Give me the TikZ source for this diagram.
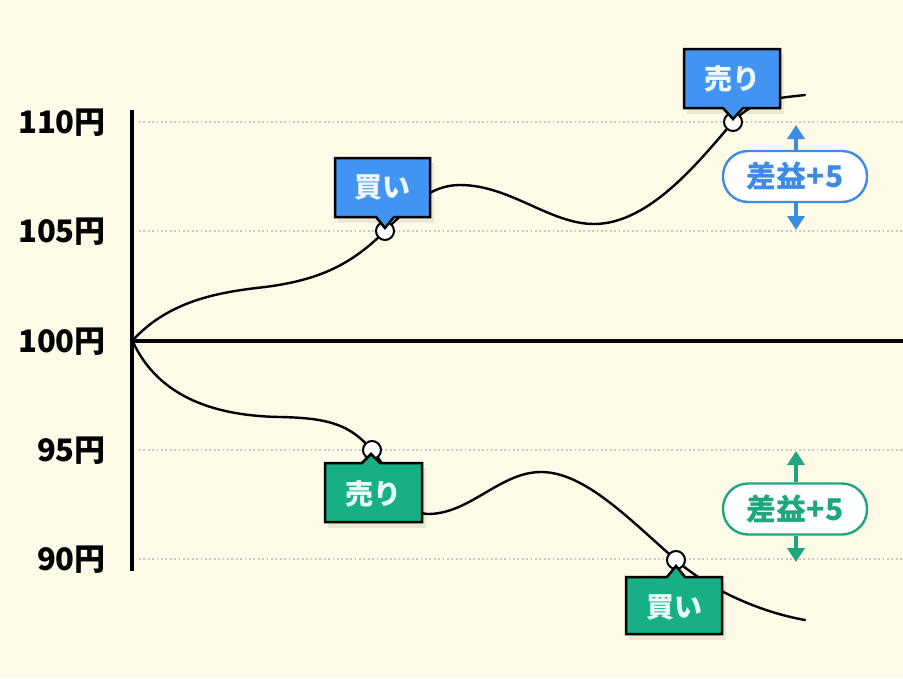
\documentclass[tikz,border=0pt]{standalone}
\usepackage{fontspec}
\setmainfont{Noto Sans CJK JP}
\usetikzlibrary{arrows.meta}
\definecolor{bg}{HTML}{FDFAE7}
\definecolor{gridgray}{HTML}{C9C8BE}
\definecolor{tagblue}{HTML}{4194F2}
\definecolor{txtblue}{HTML}{3D8BE4}
\definecolor{tagtxtblue}{HTML}{EEF6FF}
\definecolor{taggreen}{HTML}{17AF86}
\definecolor{txtgreen}{HTML}{1EA67F}
\definecolor{tagtxtgreen}{HTML}{E8FFF6}
\tikzset{
  gridline/.style={draw=gridgray, line width=1.8pt, dash pattern=on 1.8pt off 2.6pt},
  axisline/.style={line width=4.5pt},
  curve/.style={line width=2.4pt, line cap=round},
  knot/.style={circle, draw=black, fill=white, line width=2pt, minimum size=18pt, inner sep=0pt},
  tagshape/.style={draw=black, line width=2.5pt, line join=miter},
  tagshadow/.style={fill=black, opacity=0.07},
  tagtext/.style={font=\bfseries\fontsize{28}{28}\selectfont, text=#1, inner sep=0pt},
  pill/.style={draw=#1, line width=2.4pt, fill=white, rounded corners=25pt, minimum width=144pt, minimum height=51pt, text=#1, font=\bfseries\fontsize{30}{30}\selectfont, inner sep=0pt},
  gaparrow/.style={line width=4pt, draw=#1, -{Triangle[width=17pt,length=14pt]}},
  ylab/.style={anchor=east, font=\bfseries\fontsize{31}{31}\selectfont, inner sep=0pt}
}
\begin{document}
\begin{tikzpicture}[x=1pt, y=-1pt]
\fill[bg] (0,0) rectangle (903,678);
\useasboundingbox (0,0) rectangle (903,678);
% grid lines
\foreach \yy in {122,231,450,559} \draw[gridline] (139,\yy) -- (903,\yy);
% y labels
\node[ylab] (l110) at (106,123) {110円};
\node[ylab] (l105) at (106,232) {105円};
\node[ylab] (l100) at (106,342) {100円};
\node[ylab] (l95) at (106,451) {95円};
\node[ylab] (l90) at (106,560) {90円};
% axes
\draw[axisline] (132,110) -- (132,571);
\draw[axisline] (132,341) -- (903,341);
% curves
\draw[curve] (133,340) .. controls (170,300) and (220,292) .. (265,287)
  .. controls (320,280) and (352,264) .. (385,231)
  .. controls (410,206) and (430,185) .. (460,185)
  .. controls (510,185) and (550,224) .. (594,224)
  .. controls (650,224) and (700,160) .. (733,122)
  .. controls (755,98) and (780,98) .. (805,95);
\draw[curve] (133,342) .. controls (160,400) and (220,416) .. (280,417)
  .. controls (330,418) and (350,425) .. (372,450)
  .. controls (392,473) and (405,514) .. (428,514)
  .. controls (470,514) and (500,472) .. (541,472)
  .. controls (585,472) and (630,520) .. (676,560)
  .. controls (710,590) and (760,612) .. (805,620);
% knots
\node[knot] (d1) at (385,231) {};
\node[knot] (d2) at (733,122) {};
\node[knot] (d3) at (372,450) {};
\node[knot] (d4) at (676,560) {};
% tags (shadows)
\fill[tagshadow] (338,163) rectangle (434,223);
\fill[tagshadow] (687,54) rectangle (784,114);
\fill[tagshadow] (328,468) rectangle (426,528);
\fill[tagshadow] (629,582) rectangle (726,640);
% blue buy
\path[tagshape, fill=tagblue] (335,158) -- (430,158) -- (430,217) -- (394,217) -- (385,228) -- (376,217) -- (335,217) -- cycle;
\node[tagtext=tagtxtblue] (b1) at (382.5,187.5) {買い};
% blue sell
\path[tagshape, fill=tagblue] (684,49) -- (780,49) -- (780,108) -- (743,108) -- (733,119) -- (723,108) -- (684,108) -- cycle;
\node[tagtext=tagtxtblue] (s1) at (732,78.5) {売り};
% green sell
\path[tagshape, fill=taggreen] (325,463) -- (362,463) -- (371,454) -- (380,463) -- (422,463) -- (422,522) -- (325,522) -- cycle;
\node[tagtext=tagtxtgreen] (s2) at (373.5,494) {売り};
% green buy
\path[tagshape, fill=taggreen] (626,577) -- (667,577) -- (676,566) -- (685,577) -- (722,577) -- (722,634) -- (626,634) -- cycle;
\node[tagtext=tagtxtgreen] (b2) at (674,607) {買い};
% profit pills
\coordinate (p1up) at (796,125);
\coordinate (p1dn) at (796,230);
\coordinate (p2up) at (796,451);
\coordinate (p2dn) at (796,562);
\node[pill=txtblue] (p1) at (795,176.5) {差益+5};
\node[pill=txtgreen] (p2) at (795,509) {差益+5};
\draw[gaparrow=txtblue] ([xshift=1pt]p1.north) -- (p1up);
\draw[gaparrow=txtblue] ([xshift=1pt]p1.south) -- (p1dn);
\draw[gaparrow=txtgreen] ([xshift=1pt]p2.north) -- (p2up);
\draw[gaparrow=txtgreen] ([xshift=1pt]p2.south) -- (p2dn);
\end{tikzpicture}
\end{document}
